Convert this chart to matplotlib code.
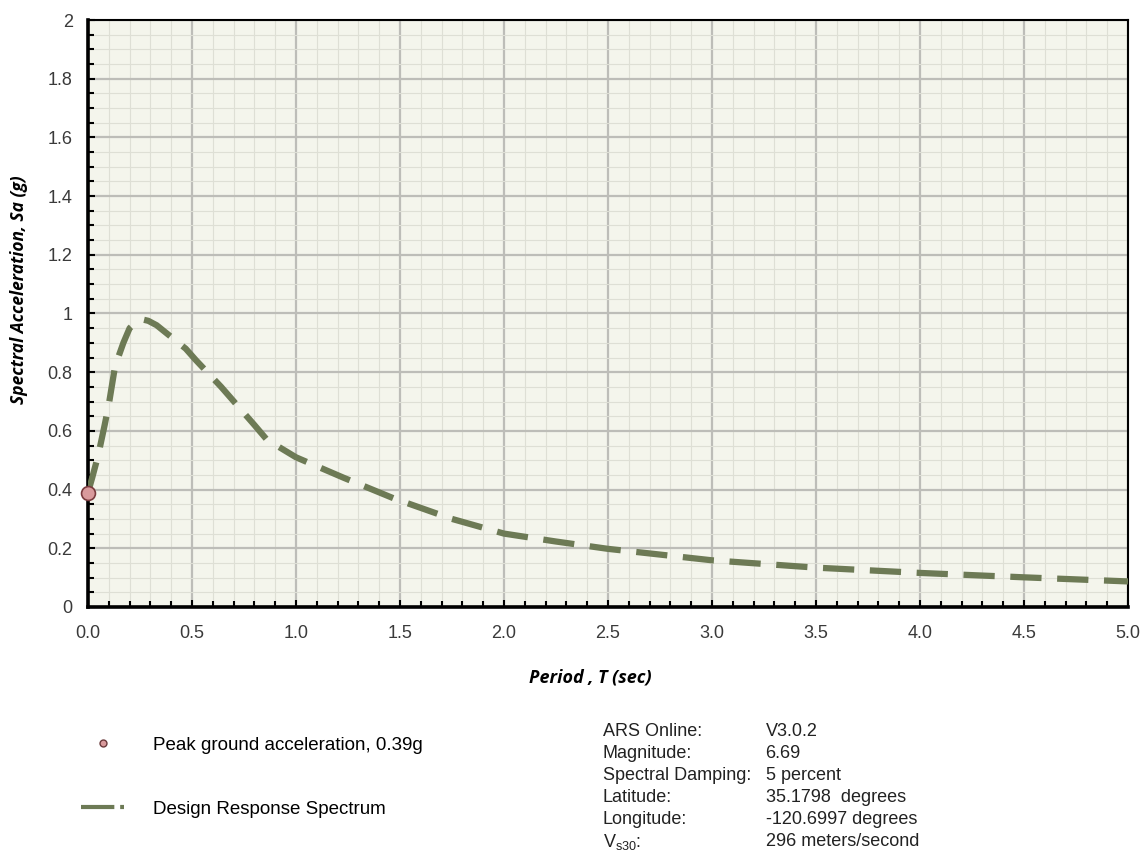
import matplotlib
matplotlib.use("Agg")
import matplotlib.pyplot as plt
from matplotlib.lines import Line2D
from matplotlib.ticker import MultipleLocator, FuncFormatter

plt.rcParams['font.family'] = ['Liberation Sans', 'DejaVu Sans']
plt.rcParams['mathtext.fontset'] = 'custom'
plt.rcParams['mathtext.rm'] = 'Liberation Sans'
plt.rcParams['mathtext.it'] = 'Liberation Sans'

# Design response spectrum
period = [0.0, 0.02, 0.05, 0.08, 0.1, 0.13, 0.17, 0.2, 0.23, 0.26, 0.29, 0.33,
          0.4, 0.47, 0.52, 0.64, 0.8, 0.86, 1.0, 1.23, 1.47, 1.75, 2.0, 2.25,
          2.5, 3.0, 3.5, 4.0, 4.5, 5.0]
sa = [0.39, 0.44, 0.52, 0.62, 0.69, 0.82, 0.9, 0.95, 0.97, 0.98, 0.975, 0.96,
      0.92, 0.88, 0.84, 0.75, 0.62, 0.57, 0.51, 0.44, 0.37, 0.30, 0.25, 0.223,
      0.198, 0.159, 0.134, 0.116, 0.101, 0.087]
pga = 0.39

info_labels = ['ARS Online:', 'Magnitude:', 'Spectral Damping:', 'Latitude:',
               'Longitude:', r'V$_{\mathrm{s30}}$:']
info_values = ['V3.0.2', '6.69', '5 percent', '35.1798  degrees',
               '-120.6997 degrees', '296 meters/second']

line_color = '#6d7a55'

fig = plt.figure(figsize=(11.46, 8.52), dpi=100)
ax = fig.add_axes([0.0768, 0.2876, 0.9075, 0.6889])
ax.set_facecolor('#f4f5ec')

ax.plot(period, sa, color=line_color, lw=4.5, dashes=(5, 2.5),
        dash_capstyle='butt', zorder=3)
ax.plot([0], [pga], 'o', ms=10, mfc='#d99a9c', mec='#7a3b3e', mew=1.2,
        zorder=4, clip_on=False)

ax.set_xlim(0, 5)
ax.set_ylim(0, 2)
ax.xaxis.set_major_locator(MultipleLocator(0.5))
ax.xaxis.set_minor_locator(MultipleLocator(0.1))
ax.yaxis.set_major_locator(MultipleLocator(0.2))
ax.yaxis.set_minor_locator(MultipleLocator(0.05))
ax.xaxis.set_major_formatter(FuncFormatter(lambda v, p: f'{v:.1f}'))
ax.yaxis.set_major_formatter(FuncFormatter(lambda v, p: f'{v:g}'))

ax.grid(which='major', color='#bdbdb8', lw=1.6, zorder=1)
ax.grid(which='minor', color='#dedfd5', lw=0.8, zorder=0)
ax.set_axisbelow(True)

ax.tick_params(which='both', direction='in', color='black', labelsize=13,
               labelcolor='#3a3a3a')
ax.tick_params(which='major', length=5, width=1.5)
ax.tick_params(which='minor', length=4, width=1.5)
ax.tick_params(axis='x', which='major', pad=13)
ax.tick_params(axis='y', which='major', pad=11)

for side in ['left', 'bottom']:
    ax.spines[side].set_linewidth(2.6)
for side in ['top', 'right']:
    ax.spines[side].set_linewidth(1.5)

ax.set_xlabel('Period , T (sec)', fontsize=13, fontweight='bold',
              fontstyle='italic', family=['Open Sans', 'DejaVu Sans'])
ax.set_ylabel('Spectral Acceleration, Sa (g)', fontsize=12.5, fontweight='bold',
              fontstyle='italic', family=['Open Sans', 'DejaVu Sans'])
ax.xaxis.set_label_coords(0.483, -0.104)
ax.yaxis.set_label_coords(-0.058, 0.54)

handles = [
    Line2D([], [], ls='none', marker='o', ms=5, mfc='#d99a9c', mec='#6a3a3c'),
    Line2D([], [], color=line_color, lw=3, dashes=(8, 1.4), dash_capstyle='butt'),
]
labels = ['Peak ground acceleration, 0.39g', 'Design Response Spectrum']
fig.legend(handles, labels, loc='upper left', bbox_to_anchor=(0.071, 0.1355),
           frameon=False, fontsize=13.5, handlelength=2.3, handletextpad=1.5,
           labelspacing=2.5, borderaxespad=0, borderpad=0)

dy = 22 / 852
for i, (lab, val) in enumerate(zip(info_labels, info_values)):
    y = 1 - (732 / 852) - i * dy
    fig.text(0.526, y, lab, fontsize=13, color='#222222', va='center')
    fig.text(0.668, y, val, fontsize=13, color='#222222', va='center')

fig.savefig('out.png', dpi=100)
